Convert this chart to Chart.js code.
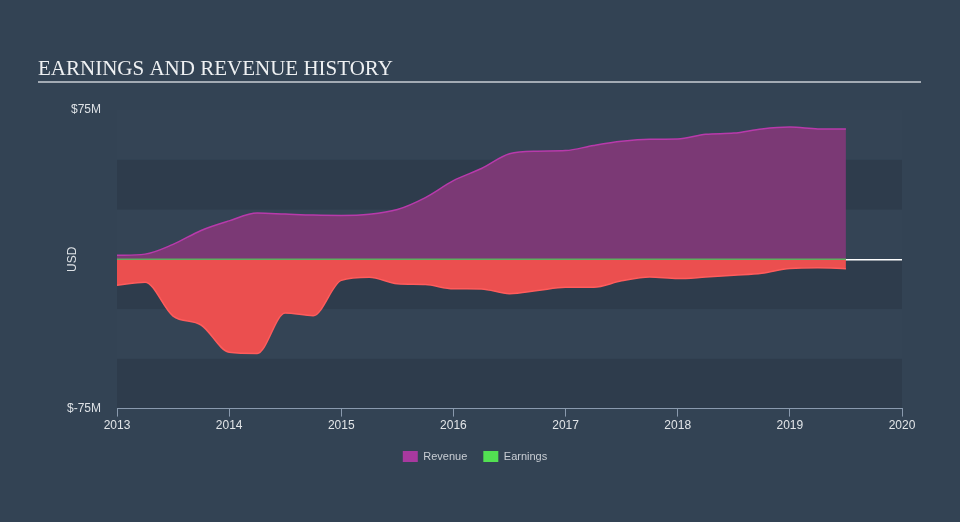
<!DOCTYPE html>
<html>
<head>
<meta charset="utf-8">
<script src="https://cdn.jsdelivr.net/npm/chart.js@4.4.0/dist/chart.umd.min.js"></script>
<style>
html, body { margin: 0; padding: 0; background: #334354; }
#wrap { position: relative; width: 960px; height: 522px; }
</style>
</head>
<body>
<div id="wrap"><canvas id="historyChart" width="960" height="522"></canvas></div>
<script>
// quarterly points, values in $M
var years = [2013, 2013.25, 2013.5, 2013.75, 2014, 2014.25, 2014.5, 2014.75,
             2015, 2015.25, 2015.5, 2015.75, 2016, 2016.25, 2016.5, 2016.75,
             2017, 2017.25, 2017.5, 2017.75, 2018, 2018.25, 2018.5, 2018.75,
             2019, 2019.25, 2019.5];
var revenue = [2.0, 2.6, 7.5, 14.5, 19.3, 23.2, 22.7, 22.2,
               22.0, 22.6, 25.0, 31.0, 39.5, 45.6, 53.0, 54.3,
               54.6, 57.2, 59.3, 60.3, 60.4, 62.8, 63.4, 65.5,
               66.4, 65.5, 65.4];
var earnings = [-13.0, -11.5, -28.5, -33.0, -46.7, -47.3, -27.0, -28.3,
                -10.6, -9.0, -12.3, -12.7, -14.8, -14.9, -17.3, -15.7,
                -14.0, -14.0, -10.8, -8.9, -9.7, -8.9, -8.0, -7.0,
                -4.6, -4.3, -4.7];
var yLabels = { '75': '$75M', '-75': '$-75M' };
var legendNames = ['Revenue', 'Earnings'];
var legendColors = ['#a8399f', '#52e052'];
var chartTitle = 'EARNINGS AND REVENUE HISTORY';

function toPoints(values) {
    return values.map(function (v, i) { return { x: years[i], y: v }; });
}

var backdrop = {
    id: 'backdrop',
    beforeDraw: function (chart) {
        var ctx = chart.ctx, area = chart.chartArea, y = chart.scales.y;
        ctx.save();
        ctx.fillStyle = '#334354';
        ctx.fillRect(0, 0, chart.width, chart.height);
        ctx.fillStyle = '#344455';
        ctx.fillRect(area.left, area.top, area.right - area.left, area.bottom - area.top);
        // darker bands every other 25M step
        ctx.fillStyle = '#2e3c4c';
        for (var v = 50; v > -75; v -= 50) {
            var top = y.getPixelForValue(v), bottom = y.getPixelForValue(v - 25);
            ctx.fillRect(area.left, top, area.right - area.left, bottom - top);
        }
        ctx.font = "21px 'Liberation Serif', 'Times New Roman', serif";
        ctx.fillStyle = '#eef0f2';
        ctx.textBaseline = 'alphabetic';
        ctx.fillText(chartTitle, 38, 75);
        ctx.fillStyle = '#a3abb4';
        ctx.fillRect(38, 81, 883, 2);
        ctx.restore();
    }
};

var tickFont = { family: "'Liberation Sans', Arial, sans-serif", size: 12 };

new Chart(document.getElementById('historyChart'), {
    type: 'line',
    data: {
        datasets: [
            {
                label: 'zero',
                data: [{ x: years[0], y: 0 }, { x: years[years.length - 1], y: 0 }],
                borderColor: '#5fae5f',
                borderWidth: 1.5,
                pointRadius: 0,
                fill: false,
                order: 0
            },
            {
                label: 'Revenue',
                data: toPoints(revenue),
                borderColor: '#b83aab',
                backgroundColor: '#7b3975',
                borderWidth: 1.5,
                pointRadius: 0,
                cubicInterpolationMode: 'monotone',
                fill: 'origin',
                order: 2
            },
            {
                label: 'Earnings',
                data: toPoints(earnings),
                borderColor: '#ff5c5c',
                backgroundColor: '#eb4f4f',
                borderWidth: 1.5,
                pointRadius: 0,
                cubicInterpolationMode: 'monotone',
                fill: 'origin',
                order: 1
            }
        ]
    },
    options: {
        responsive: false,
        animation: false,
        layout: { padding: { top: 110, right: 58, bottom: 50, left: 48 } },
        plugins: {
            tooltip: { enabled: false },
            legend: {
                position: 'bottom',
                labels: {
                    boxWidth: 15,
                    boxHeight: 11,
                    padding: 16,
                    color: '#c9ced4',
                    font: { family: "'Liberation Sans', Arial, sans-serif", size: 11 },
                    generateLabels: function () {
                        return legendNames.map(function (name, i) {
                            return {
                                text: name,
                                fillStyle: legendColors[i],
                                strokeStyle: legendColors[i],
                                lineWidth: 0,
                                hidden: false,
                                datasetIndex: i + 1,
                                fontColor: '#c9ced4'
                            };
                        });
                    }
                }
            }
        },
        scales: {
            x: {
                type: 'linear',
                min: 2013,
                max: 2020,
                ticks: {
                    stepSize: 1,
                    padding: 2,
                    color: '#e2e5e8',
                    font: tickFont,
                    maxRotation: 0,
                    callback: function (v) { return String(v); }
                },
                grid: { drawOnChartArea: false, color: '#8a9aae', tickLength: 8 },
                border: { color: '#8a9aae', width: 1 }
            },
            y: {
                min: -75,
                max: 75,
                afterFit: function (scale) { scale.width = 69; },
                ticks: {
                    stepSize: 25,
                    padding: 16,
                    color: '#dde1e5',
                    font: tickFont,
                    callback: function (v) { return yLabels[String(v)] || ''; }
                },
                grid: {
                    drawTicks: false,
                    lineWidth: 1.5,
                    color: function (c) { return c.tick && c.tick.value === 0 ? '#ffffff' : 'transparent'; }
                },
                border: { display: false },
                title: {
                    display: true,
                    text: 'USD',
                    color: '#dde1e5',
                    font: tickFont,
                    padding: { top: 17, bottom: 0 }
                }
            }
        }
    },
    plugins: [backdrop]
});
</script>
</body>
</html>
